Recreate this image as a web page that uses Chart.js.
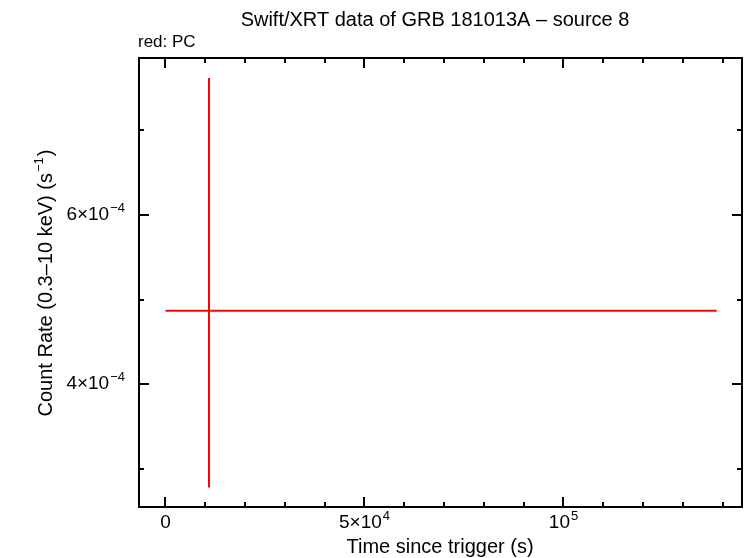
<!DOCTYPE html>
<html>
<head>
<meta charset="utf-8">
<script src="https://cdn.jsdelivr.net/npm/chart.js@4"></script>
<style>
  body { margin: 0; background: #fff; }
  canvas { display: block; }
</style>
</head>
<body>
<canvas id="lcChart" width="746" height="558"></canvas>
<script>
// Light curve data (one PC-mode bin)
const times = [10930];
const timeStart = [0];
const timeEnd = [138500];
const rates = [4.87e-4];
const rateLow = [2.78e-4];
const rateHigh = [7.62e-4];

// Axis ticks and labels
const xMajorTicks = [0, 50000, 100000];
const xTickLabels = [['0', ''], ['5\u00d710', '4'], ['10', '5']];
const xMinorTicks = [10000, 20000, 30000, 40000, 60000, 70000, 80000, 90000, 110000, 120000, 130000, 140000];
const yMajorTicks = [4e-4, 6e-4];
const yTickLabels = [['4\u00d710', '\u22124'], ['6\u00d710', '\u22124']];
const yMinorTicks = [3e-4, 5e-4, 7e-4];

const FONT = '"Liberation Sans", Arial, Helvetica, sans-serif';
const RED = '#ff0000';

// Build error-bar segments for each bin
const datasets = [];
for (let i = 0; i < times.length; i++) {
    datasets.push({
        data: [{ x: timeStart[i], y: rates[i] }, { x: timeEnd[i], y: rates[i] }],
        borderColor: RED, borderWidth: 2, pointRadius: 0, borderCapStyle: 'butt'
    });
    datasets.push({
        data: [{ x: times[i], y: rateLow[i] }, { x: times[i], y: rateHigh[i] }],
        borderColor: RED, borderWidth: 2, pointRadius: 0, borderCapStyle: 'butt'
    });
}

// Draw a label with a superscript part
function drawSup(ctx, base, sup, x, y, align) {
    ctx.font = '19px ' + FONT;
    const wb = ctx.measureText(base).width;
    ctx.font = '13px ' + FONT;
    const ws = sup ? ctx.measureText(sup).width + 1 : 0;
    const total = wb + ws;
    let x0 = x;
    if (align === 'center') x0 = x - total / 2;
    if (align === 'right') x0 = x - total;
    ctx.textAlign = 'left';
    ctx.textBaseline = 'middle';
    ctx.font = '19px ' + FONT;
    ctx.fillText(base, x0, y);
    if (sup) {
        ctx.font = '13px ' + FONT;
        ctx.fillText(sup, x0 + wb + 1, y - 7);
    }
}

const framePlugin = {
    id: 'frame',
    afterDraw(chart) {
        const ctx = chart.ctx;
        const a = chart.chartArea;
        const xs = chart.scales.x, ys = chart.scales.y;
        ctx.save();
        ctx.strokeStyle = '#000';
        ctx.fillStyle = '#000';
        ctx.lineWidth = 2;
        ctx.strokeRect(a.left, a.top, a.right - a.left, a.bottom - a.top);

        ctx.beginPath();
        const xTick = (v, len) => {
            const px = Math.round(xs.getPixelForValue(v));
            ctx.moveTo(px, a.bottom); ctx.lineTo(px, a.bottom - len);
            ctx.moveTo(px, a.top); ctx.lineTo(px, a.top + len);
        };
        const yTick = (v, len) => {
            const py = Math.round(ys.getPixelForValue(v));
            ctx.moveTo(a.left, py); ctx.lineTo(a.left + len, py);
            ctx.moveTo(a.right, py); ctx.lineTo(a.right - len, py);
        };
        xMajorTicks.forEach(v => xTick(v, 10));
        xMinorTicks.forEach(v => xTick(v, 5));
        yMajorTicks.forEach(v => yTick(v, 10));
        yMinorTicks.forEach(v => yTick(v, 5));
        ctx.stroke();

        // tick labels
        xMajorTicks.forEach((v, i) => {
            drawSup(ctx, xTickLabels[i][0], xTickLabels[i][1], xs.getPixelForValue(v), a.bottom + 16, 'center');
        });
        yMajorTicks.forEach((v, i) => {
            drawSup(ctx, yTickLabels[i][0], yTickLabels[i][1], a.left - 14, ys.getPixelForValue(v), 'right');
        });

        // titles
        ctx.textBaseline = 'middle';
        ctx.textAlign = 'center';
        ctx.font = '20px ' + FONT;
        ctx.fillText('Swift/XRT data of GRB 181013A \u2013 source 8', 435, 20);
        ctx.fillText('Time since trigger (s)', 440, 547);
        ctx.textAlign = 'left';
        ctx.font = '17px ' + FONT;
        ctx.fillText('red: PC', 138, 42);

        // y axis title with superscript
        ctx.save();
        ctx.translate(46, 283);
        ctx.rotate(-Math.PI / 2);
        const main = 'Count Rate (0.3\u201310 keV) (s';
        ctx.font = '20px ' + FONT;
        const w1 = ctx.measureText(main).width;
        ctx.font = '13px ' + FONT;
        const w2 = ctx.measureText('\u22121').width;
        ctx.font = '20px ' + FONT;
        const w3 = ctx.measureText(')').width;
        let x0 = -(w1 + w2 + w3 + 2) / 2;
        ctx.fillText(main, x0, 0);
        ctx.font = '13px ' + FONT;
        ctx.fillText('\u22121', x0 + w1 + 1, -7);
        ctx.font = '20px ' + FONT;
        ctx.fillText(')', x0 + w1 + w2 + 2, 0);
        ctx.restore();

        ctx.restore();
    }
};

new Chart(document.getElementById('lcChart').getContext('2d'), {
    type: 'line',
    data: { datasets: datasets },
    options: {
        responsive: false,
        animation: false,
        layout: { padding: { left: 139, right: 4, top: 58, bottom: 51 } },
        scales: {
            x: { type: 'linear', min: -6658, max: 144850, display: false },
            y: { type: 'linear', min: 2.549e-4, max: 7.856e-4, display: false }
        },
        plugins: {
            legend: { display: false },
            tooltip: { enabled: false }
        }
    },
    plugins: [framePlugin]
});
</script>
</body>
</html>
